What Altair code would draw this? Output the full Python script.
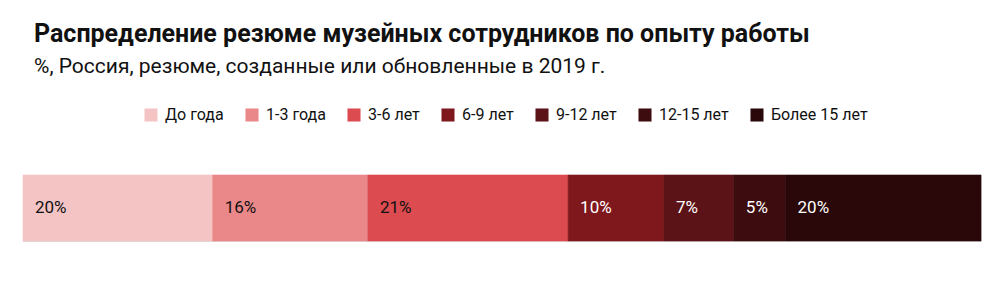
import altair as alt
import pandas as pd

categories = ["До года", "1-3 года", "3-6 лет", "6-9 лет", "9-12 лет", "12-15 лет", "Более 15 лет"]
values = [19.8, 16.2, 20.9, 10.0, 7.3, 5.4, 20.4]
labels = ["20%", "16%", "21%", "10%", "7%", "5%", "20%"]
colors = ["#f4c4c5", "#ea8789", "#dc4b50", "#7f181d", "#5c1317", "#3d0c0e", "#2a080a"]
text_colors = ["#111111", "#111111", "#111111", "#ffffff", "#ffffff", "#ffffff", "#ffffff"]

starts = []
acc = 0.0
for v in values:
    starts.append(acc)
    acc += v

df = pd.DataFrame({
    "cat": categories,
    "value": values,
    "label": labels,
    "order": list(range(len(categories))),
    "start": starts,
    "tcolor": text_colors,
    "row": ["r"] * len(categories),
})

FONT = "Roboto, sans-serif"
total = sum(values)

x_scale = alt.Scale(domain=[0, total], nice=False, zero=True)
y_enc = alt.Y("row:N", axis=None, scale=alt.Scale(paddingInner=0, paddingOuter=0))

bars = alt.Chart(df).mark_bar(strokeWidth=0.6).encode(
    x=alt.X("value:Q", stack="zero", axis=None, scale=x_scale),
    y=y_enc,
    color=alt.Color(
        "cat:N",
        scale=alt.Scale(domain=categories, range=colors),
        legend=alt.Legend(
            title=None,
            orient="none",
            direction="horizontal",
            legendX=120,
            legendY=-68,
            symbolType="square",
            symbolSize=170,
            symbolStrokeWidth=0,
            symbolOpacity=1,
            labelFont=FONT,
            labelFontSize=16,
            labelColor="#111111",
            columnPadding=20,
            labelOffset=6,
        ),
    ),
    stroke=alt.Stroke("cat:N", scale=alt.Scale(domain=categories, range=colors), legend=None),
    order=alt.Order("order:Q"),
)

texts = alt.Chart(df).mark_text(align="left", baseline="middle", dx=12, font=FONT, fontSize=17).encode(
    x=alt.X("start:Q", scale=x_scale),
    y=y_enc,
    text="label:N",
    color=alt.Color("tcolor:N", scale=None),
)

chart = alt.layer(bars, texts).properties(
    width=958,
    height=66,
    title=alt.TitleParams(
        text="Распределение резюме музейных сотрудников по опыту работы",
        subtitle="%, Россия, резюме, созданные или обновленные в 2019 г.",
        anchor="start",
        frame="group",
        dx=11,
        offset=30,
        font=FONT,
        fontSize=25,
        fontWeight="bold",
        color="#111111",
        subtitleFont=FONT,
        subtitleFontSize=21,
        subtitleColor="#111111",
        subtitlePadding=9,
    ),
).configure_view(stroke=None).configure(
    autosize=alt.AutoSizeParams(type="none"),
    padding={"left": 23, "top": 175, "right": 23, "bottom": 41},
    background="white",
)

chart.save("out.html", embed_options={"renderer": "svg", "actions": False})
